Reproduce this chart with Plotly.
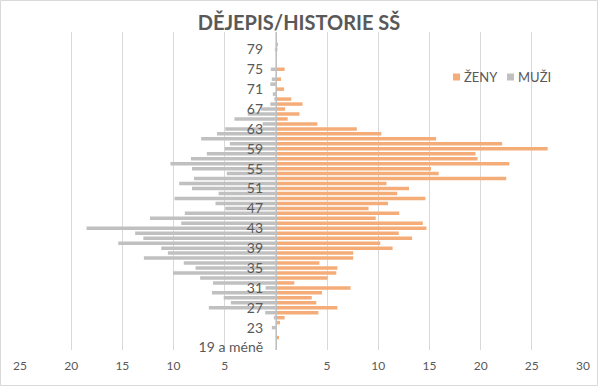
import plotly.graph_objects as go

# Categories (age groups), bottom to top
ages = ["19 a méně"] + [str(a) for a in range(20, 83)]

# Values (ages 19..82)
zeny = [0, 0, 0.3, 0, 0, 0.4, 0.85, 4.15, 6.0, 3.95,
        3.5, 4.5, 7.3, 1.8, 5.05, 5.9, 6.0, 4.25, 7.55, 7.55,
        11.4, 10.2, 13.3, 12.0, 14.7, 14.35, 9.75, 12.05, 9.05, 10.95,
        14.6, 11.85, 13.0, 10.8, 22.5, 15.9, 15.15, 22.8, 19.7, 19.5,
        26.55, 22.1, 15.65, 10.3, 7.9, 4.05, 1.15, 2.3, 0.9, 2.6,
        1.5, 0, 0.8, 0, 0.5, 0, 0.85, 0, 0, 0,
        0.15, 0.2, 0, 0]
muzi = [0, 0, 0, 0, 0.4, 0, 0.2, 1.05, 6.55, 4.4,
        5.1, 6.25, 1.0, 6.15, 7.4, 10.05, 7.85, 9.0, 12.9, 10.55,
        11.2, 15.4, 12.95, 13.75, 18.5, 9.25, 12.3, 8.9, 4.95, 5.9,
        9.9, 5.6, 8.2, 9.45, 8.0, 4.8, 8.2, 10.3, 8.3, 6.75,
        5.0, 4.5, 7.3, 5.75, 4.95, 1.3, 4.05, 2.75, 1.45, 0.55,
        0.15, 0.3, 0, 0.55, 0.4, 0, 0.5, 0, 0, 0,
        0.1, 0, 0, 0]

series_names = ["ŽENY", "MUŽI"]
series_colors = ["#F4AC78", "#C0C0C0"]

y_tick_labels = ["19 a méně"] + [str(a) for a in range(23, 80, 4)]
x_ticks = [-25, -20, -15, -10, -5, 0, 5, 10, 15, 20, 25, 30]
x_tick_text = ["25", "20", "15", "10", "5", "", "5", "10", "15", "20", "25", "30"]

FONT = "Lato, 'Noto Sans', sans-serif"
TXT = "#595959"

fig = go.Figure()
fig.add_trace(go.Bar(y=ages, x=zeny, orientation="h", name=series_names[0],
                     marker=dict(color=series_colors[0], line=dict(width=0))))
fig.add_trace(go.Bar(y=ages, x=[-v for v in muzi], orientation="h", name=series_names[1],
                     marker=dict(color=series_colors[1], line=dict(width=0))))

W, H = 598, 386
L, R, T, B = 20, 15, 32, 36
pw, ph = W - L - R, H - T - B

def px_x(p):
    return (p - L) / pw

def px_y(p):
    return 1 - (p - T) / ph

fig.update_layout(
    width=W, height=H,
    margin=dict(l=L, r=R, t=T, b=B, autoexpand=False),
    paper_bgcolor="white", plot_bgcolor="white",
    barmode="overlay", bargap=0.3,
    font=dict(family=FONT, color=TXT),
    title=dict(text="<b>DĚJEPIS/HISTORIE SŠ</b>", x=0.5, xanchor="center",
               y=1 - 23 / H, yanchor="middle",
               font=dict(size=20, color=TXT, family=FONT)),
    showlegend=False,
    xaxis=dict(range=[-25, 30], tickvals=x_ticks, ticktext=x_tick_text,
               showgrid=True, gridcolor="#D9D9D9", gridwidth=1,
               zeroline=False, showline=False, ticks="",
               ticklabelstandoff=7,
               tickfont=dict(size=12, color=TXT, family=FONT),
               automargin=False, fixedrange=True),
    yaxis=dict(type="category", categoryorder="array", categoryarray=ages,
               tickvals=y_tick_labels, ticktext=y_tick_labels,
               anchor="free", position=25 / 55, side="left",
               showgrid=False, zeroline=False,
               showline=True, linecolor="#BFBFBF", linewidth=1,
               ticks="", ticklabelstandoff=10,
               tickfont=dict(size=14, color=TXT, family=FONT),
               layer="above traces", automargin=False, fixedrange=True),
)

# legend (compact, Excel-style)
legend_x = [453, 507]
for name, col, lx in zip(series_names, series_colors, legend_x):
    fig.add_shape(type="rect", xref="paper", yref="paper",
                  x0=px_x(lx), x1=px_x(lx + 7), y0=px_y(80.5), y1=px_y(73.5),
                  fillcolor=col, line=dict(width=0))
    fig.add_annotation(text=name, xref="paper", yref="paper",
                       x=px_x(lx + 9), y=px_y(77), xanchor="left", yanchor="middle",
                       showarrow=False, font=dict(size=13, color=TXT, family=FONT))

# chart border
fig.add_shape(type="rect", xref="paper", yref="paper",
              x0=px_x(0.5), x1=px_x(W - 0.5), y0=px_y(H - 0.5), y1=px_y(0.5),
              line=dict(color="#D9D9D9", width=1), layer="below")

fig.write_html("out.html",
               config={"displayModeBar": False, "staticPlot": True},
               post_script="document.body.style.margin='0';document.body.style.padding='0';")
